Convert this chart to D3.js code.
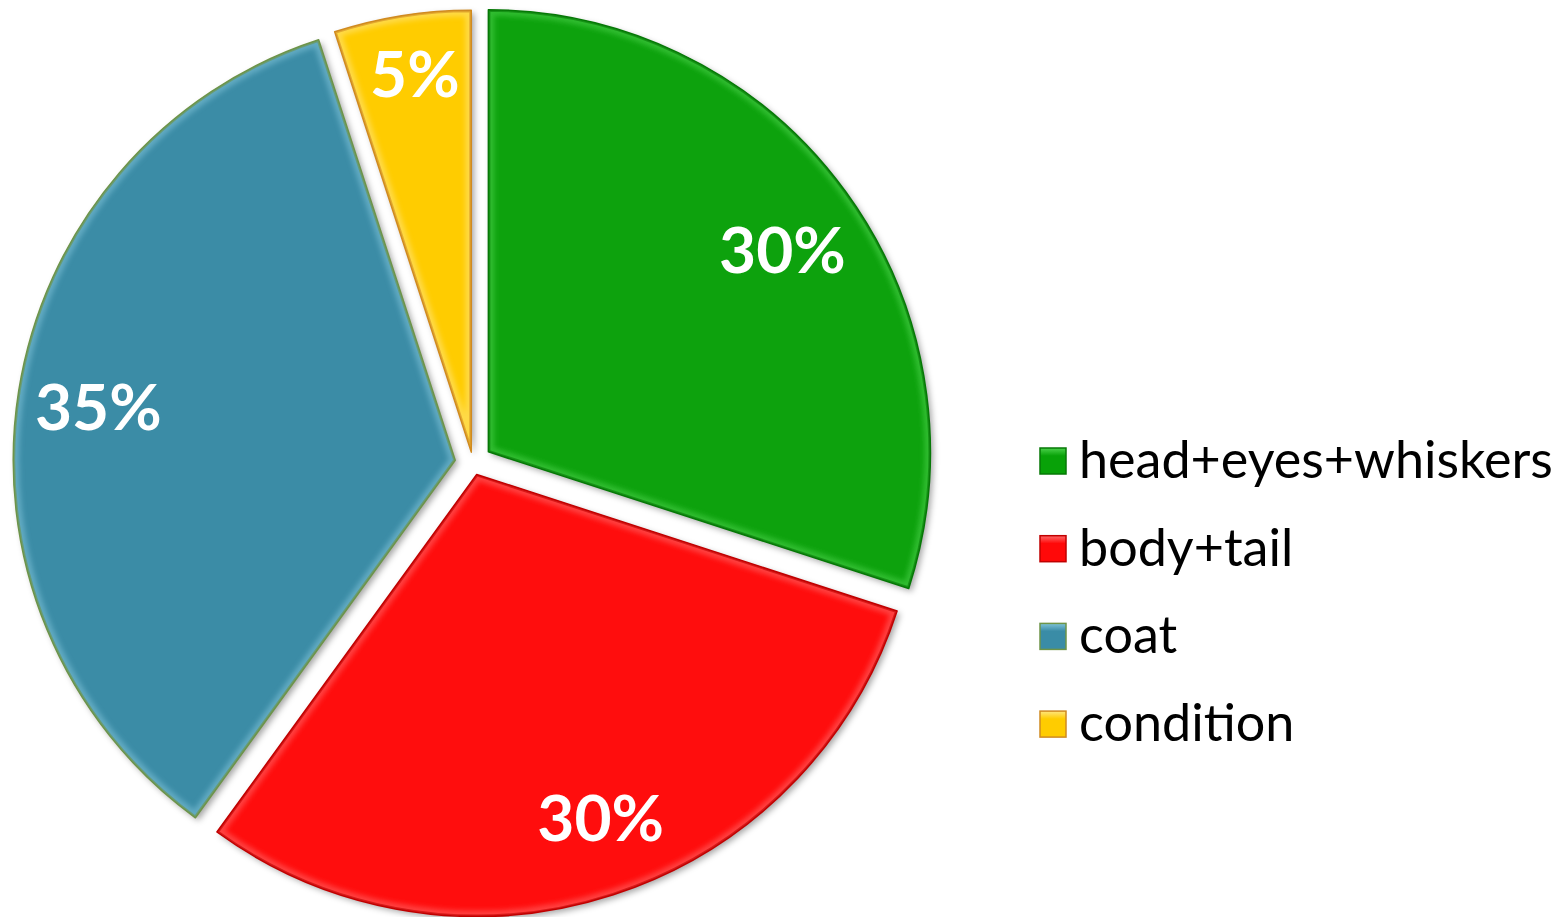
<!DOCTYPE html>
<html>
<head>
<meta charset="utf-8">
<script src="https://cdn.jsdelivr.net/npm/d3@7/dist/d3.min.js"></script>
<style>
  html, body { margin: 0; padding: 0; background: #ffffff; }
  svg { display: block; }
</style>
</head>
<body>
<svg id="chart" width="1564" height="917"></svg>
<script>
// ---- data ----
const categories = ["head+eyes+whiskers", "body+tail", "coat", "condition"];
const values = [30, 30, 35, 5];
const valueLabels = ["30%", "30%", "35%", "5%"];

// ---- style ----
const fills = ["#08A208", "#FF0909", "#3A8CA6", "#FFCC00"];
const edges = ["#067806", "#C00000", "#6E9448", "#D08A20"];
const highlights = ["#4CD24C", "#FF6A6A", "#7FC3D8", "#FFE680"];
const explode = [19, 12, 18, 11];
const labelRadiusFactor = [0.80, 0.82, 0.82, 0.86];
const labelNudge = [[8, 6], [12, -1], [1, 3], [3, -3]];
const center = { x: 473, y: 463 };
const R = 442;
const labelFont = 64;

const svg = d3.select("#chart");
const defs = svg.append("defs");

const shadow = defs.append("filter").attr("id", "shadow")
  .attr("x", "-10%").attr("y", "-10%").attr("width", "120%").attr("height", "120%");
shadow.append("feDropShadow").attr("dx", 3).attr("dy", 3).attr("stdDeviation", 3)
  .attr("flood-color", "#000").attr("flood-opacity", 0.35);

const blur = defs.append("filter").attr("id", "soft");
blur.append("feGaussianBlur").attr("stdDeviation", 2.5);

const pie = d3.pie().sort(null).value(d => d).startAngle(0).endAngle(2 * Math.PI);
const arcs = pie(values);
const arc = d3.arc().innerRadius(0).outerRadius(R);

const g = svg.append("g").attr("transform", `translate(${center.x},${center.y})`);

arcs.forEach((a, i) => {
  const mid = (a.startAngle + a.endAngle) / 2;
  const dx = Math.sin(mid) * explode[i];
  const dy = -Math.cos(mid) * explode[i];
  const sg = g.append("g").attr("transform", `translate(${dx},${dy})`);

  defs.append("clipPath").attr("id", "clip" + i)
    .append("path").attr("d", arc(a));

  sg.append("path").attr("d", arc(a))
    .attr("fill", fills[i])
    .attr("filter", "url(#shadow)");

  // bevel highlight band along inner edge
  const bevel = sg.append("g").attr("clip-path", `url(#clip${i})`);
  bevel.append("path").attr("d", arc(a))
    .attr("fill", "none")
    .attr("stroke", highlights[i])
    .attr("stroke-opacity", 0.55)
    .attr("stroke-width", 12)
    .attr("filter", "url(#soft)");
  bevel.append("path").attr("d", arc(a))
    .attr("fill", "none")
    .attr("stroke", edges[i])
    .attr("stroke-opacity", 0.6)
    .attr("stroke-width", 4);

  sg.append("path").attr("d", arc(a))
    .attr("fill", "none")
    .attr("stroke", edges[i])
    .attr("stroke-width", 1.5)
    .attr("stroke-linejoin", "round");

  const lr = R * labelRadiusFactor[i];
  const la = d3.arc().innerRadius(lr).outerRadius(lr);
  const [cx, cy] = la.centroid(a);
  sg.append("text")
    .attr("x", cx + labelNudge[i][0]).attr("y", cy + labelNudge[i][1] + labelFont * 0.36)
    .attr("text-anchor", "middle")
    .attr("font-family", "Lato, 'Open Sans', sans-serif")
    .attr("font-weight", "bold")
    .attr("font-size", labelFont)
    .attr("fill", "#ffffff")
    .text(valueLabels[i]);
});

// ---- legend ----
const legendX = 1040, legendY0 = 461, legendStep = 87.7, sq = 26;
const leg = svg.append("g");
categories.forEach((c, i) => {
  const y = legendY0 + i * legendStep;
  const gradId = "lg" + i;
  const grad = defs.append("linearGradient").attr("id", gradId)
    .attr("x1", 0).attr("y1", 0).attr("x2", 0).attr("y2", 1);
  grad.append("stop").attr("offset", "0%").attr("stop-color", highlights[i]);
  grad.append("stop").attr("offset", "30%").attr("stop-color", fills[i]);
  grad.append("stop").attr("offset", "100%").attr("stop-color", fills[i]);
  leg.append("rect")
    .attr("x", legendX).attr("y", y - sq / 2)
    .attr("width", sq).attr("height", sq)
    .attr("fill", `url(#${gradId})`)
    .attr("stroke", edges[i]).attr("stroke-width", 1.5);
  leg.append("text")
    .attr("class", "legtext")
    .attr("x", 1079).attr("y", y + 17)
    .attr("font-family", "Lato, 'Open Sans', sans-serif")
    .attr("font-size", 48)
    .attr("fill", "#000000")
    .text(c);
});
// fit legend font size so the longest entry spans like the original
const first = leg.select("text.legtext").node();
const w = first.getComputedTextLength();
const fs = 48 * 474 / w;
leg.selectAll("text.legtext").attr("font-size", fs);
</script>
</body>
</html>
